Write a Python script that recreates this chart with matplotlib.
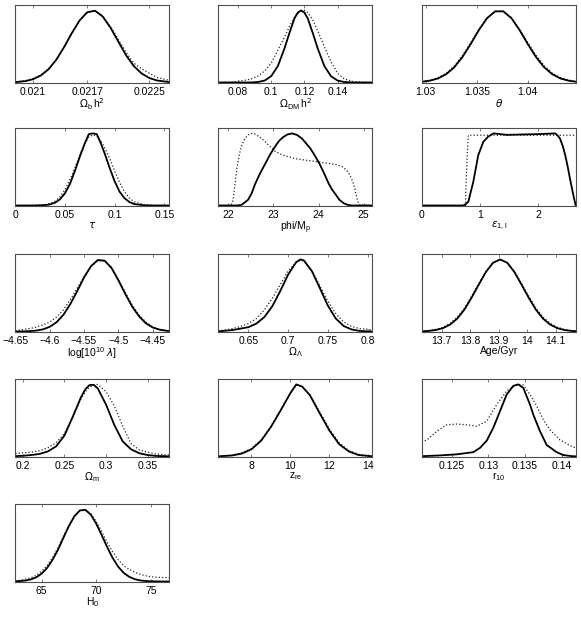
import numpy as np
import matplotlib
matplotlib.use("Agg")
import matplotlib.pyplot as plt

plt.rcParams['font.family'] = ['Liberation Sans', 'DejaVu Sans']
plt.rcParams['mathtext.fontset'] = 'dejavusans'

# Omega_b h^2
obh2_x = [0.02078, 0.0209, 0.0210, 0.0211, 0.0212, 0.0213, 0.0214, 0.0215, 0.0216, 0.0217,
          0.0218, 0.0219, 0.0220, 0.0221, 0.0222, 0.0223, 0.0224, 0.0225, 0.0226, 0.02276]
obh2_solid = [0.006, 0.019, 0.046, 0.097, 0.184, 0.316, 0.49, 0.685, 0.86, 0.975,
              0.995, 0.915, 0.76, 0.57, 0.38, 0.23, 0.127, 0.063, 0.028, 0.006]
obh2_dot = [0.01, 0.025, 0.055, 0.105, 0.19, 0.32, 0.49, 0.68, 0.855, 0.97,
            0.995, 0.92, 0.775, 0.6, 0.42, 0.27, 0.19, 0.13, 0.07, 0.03]

# Omega_DM h^2
odm_x = [0.068, 0.076, 0.084, 0.088, 0.092, 0.096, 0.100, 0.104, 0.108, 0.111, 0.114, 0.116,
         0.118, 0.120, 0.122, 0.125, 0.128, 0.132, 0.136, 0.140, 0.144, 0.150, 0.161]
odm_solid = [0, 0, 0, 0.001, 0.007, 0.027, 0.089, 0.23, 0.475, 0.69, 0.89, 0.97,
             1.0, 0.97, 0.89, 0.69, 0.475, 0.23, 0.089, 0.027, 0.007, 0, 0]
odm_dot = [0, 0.005, 0.03, 0.05, 0.09, 0.16, 0.27, 0.45, 0.63, 0.78, 0.9, 0.96,
           0.99, 1.0, 0.97, 0.87, 0.72, 0.5, 0.29, 0.13, 0.05, 0.01, 0]

# theta
th_x = [1.0296, 1.0304, 1.0312, 1.0320, 1.0328, 1.0336, 1.0344, 1.0352, 1.0360, 1.0368,
        1.0376, 1.0384, 1.0392, 1.0400, 1.0408, 1.0416, 1.0424, 1.0432, 1.0440, 1.0447]
th_solid = [0.010, 0.025, 0.056, 0.115, 0.212, 0.355, 0.533, 0.726, 0.891, 0.987,
            0.987, 0.891, 0.726, 0.533, 0.355, 0.212, 0.115, 0.056, 0.025, 0.011]
th_dot = [0.014, 0.032, 0.066, 0.13, 0.23, 0.375, 0.55, 0.735, 0.895, 0.985,
          0.988, 0.9, 0.74, 0.555, 0.38, 0.235, 0.13, 0.07, 0.035, 0.015]

# tau
tau_x = [0, 0.01, 0.02, 0.03, 0.035, 0.04, 0.045, 0.05, 0.055, 0.06, 0.065, 0.07, 0.074,
         0.078, 0.082, 0.086, 0.09, 0.095, 0.10, 0.105, 0.11, 0.115, 0.12, 0.13, 0.14, 0.155]
tau_solid = [0, 0, 0, 0.006, 0.015, 0.039, 0.086, 0.17, 0.30, 0.48, 0.68, 0.865, 0.99,
             1.0, 0.99, 0.865, 0.72, 0.52, 0.335, 0.19, 0.10, 0.046, 0.019, 0.003, 0, 0]
tau_dot = [0, 0, 0.002, 0.01, 0.03, 0.06, 0.12, 0.22, 0.36, 0.52, 0.70, 0.86, 0.95,
           0.98, 0.96, 0.9, 0.8, 0.65, 0.48, 0.32, 0.19, 0.1, 0.05, 0.01, 0.002, 0]

# phi / M_p
phi_x = [21.78, 22.0, 22.2, 22.3, 22.44, 22.52, 22.59, 22.7, 22.82, 22.93, 23.04, 23.13,
         23.22, 23.31, 23.41, 23.52, 23.63, 23.72, 23.82, 23.92, 24.02, 24.12, 24.22, 24.3,
         24.37, 24.46, 24.56, 24.65, 24.74, 25.19]
phi_solid = [0, 0, 0, 0.01, 0.08, 0.17, 0.29, 0.44, 0.58, 0.71, 0.82, 0.9,
             0.95, 0.985, 1.0, 0.98, 0.93, 0.865, 0.79, 0.69, 0.58, 0.45, 0.31, 0.22,
             0.16, 0.08, 0.03, 0.008, 0, 0]
phi_dot_x = [21.78, 22.05, 22.1, 22.12, 22.15, 22.2, 22.25, 22.3, 22.37, 22.44, 22.52, 22.6,
             22.74, 22.89, 23.04, 23.2, 23.48, 23.7, 23.93, 24.22, 24.37, 24.52, 24.6, 24.67,
             24.73, 24.78, 24.82, 24.86, 24.9, 25.19]
phi_dot = [0, 0, 0.05, 0.15, 0.3, 0.55, 0.72, 0.84, 0.93, 0.98, 1.0, 0.99,
           0.93, 0.84, 0.75, 0.7, 0.65, 0.63, 0.61, 0.585, 0.57, 0.54, 0.5, 0.45,
           0.37, 0.29, 0.18, 0.08, 0.01, 0]

# epsilon_{1,l}
eps_x = [0, 0.71, 0.76, 0.8, 0.885, 0.97, 1.057, 1.14, 1.23, 1.35, 1.46, 1.7, 2.0, 2.29,
         2.33, 2.37, 2.42, 2.46, 2.5, 2.54, 2.59, 2.64]
eps_solid = [0, 0, 0.02, 0.055, 0.33, 0.70, 0.885, 0.955, 1.0, 0.99, 0.98, 0.985, 0.99, 1.0,
             0.97, 0.93, 0.82, 0.70, 0.55, 0.38, 0.18, 0.0]
eps_dot_x = [0, 0.75, 0.76, 0.78, 0.8, 1.5, 2.64]
eps_dot = [0, 0, 0.3, 0.7, 0.975, 0.975, 0.975]

# log[10^10 lambda]
lam_x = [-4.65, -4.64, -4.63, -4.62, -4.61, -4.60, -4.59, -4.58, -4.57, -4.56, -4.55, -4.54,
         -4.53, -4.52, -4.51, -4.50, -4.49, -4.48, -4.47, -4.46, -4.45, -4.44, -4.43, -4.426]
lam_solid = [0.0005, 0.0015, 0.0045, 0.012, 0.029, 0.065, 0.128, 0.232, 0.38, 0.56, 0.75, 0.905,
             0.992, 0.982, 0.88, 0.71, 0.52, 0.345, 0.21, 0.113, 0.055, 0.025, 0.01, 0.007]
lam_dot = [0.01, 0.025, 0.04, 0.06, 0.09, 0.13, 0.2, 0.3, 0.44, 0.6, 0.76, 0.9,
           0.98, 0.98, 0.89, 0.72, 0.54, 0.37, 0.23, 0.13, 0.065, 0.03, 0.012, 0.008]

# Omega_Lambda
olam_x = [0.612, 0.62, 0.63, 0.64, 0.65, 0.66, 0.67, 0.68, 0.69, 0.70, 0.71, 0.7156,
          0.72, 0.73, 0.74, 0.75, 0.76, 0.77, 0.78, 0.79, 0.80, 0.806]
olam_solid = [0, 0.01, 0.02, 0.04, 0.06, 0.11, 0.2, 0.35, 0.56, 0.79, 0.96, 1.0,
              0.984, 0.835, 0.6, 0.36, 0.18, 0.076, 0.028, 0.008, 0.002, 0]
olam_dot = [0.01, 0.02, 0.04, 0.07, 0.11, 0.18, 0.3, 0.46, 0.65, 0.84, 0.96, 0.99,
            0.975, 0.84, 0.63, 0.42, 0.25, 0.13, 0.07, 0.04, 0.03, 0.02]

# Age / Gyr
age_x = [13.63, 13.655, 13.68, 13.705, 13.73, 13.755, 13.78, 13.805, 13.83, 13.855, 13.88,
         13.905, 13.93, 13.955, 13.98, 14.005, 14.03, 14.055, 14.08, 14.105, 14.13, 14.155, 14.17]
age_solid = [0.003, 0.008, 0.021, 0.047, 0.097, 0.18, 0.305, 0.47, 0.65, 0.825, 0.953,
             1.0, 0.953, 0.825, 0.65, 0.47, 0.305, 0.18, 0.097, 0.047, 0.021, 0.008, 0.005]
age_dot = [0.006, 0.014, 0.03, 0.06, 0.115, 0.2, 0.325, 0.49, 0.665, 0.83, 0.955,
           0.995, 0.955, 0.835, 0.665, 0.49, 0.33, 0.2, 0.115, 0.06, 0.03, 0.013, 0.008]

# Omega_m
om_x = [0.191, 0.2, 0.21, 0.22, 0.23, 0.24, 0.25, 0.26, 0.27, 0.275, 0.28, 0.285, 0.29,
        0.30, 0.31, 0.32, 0.33, 0.34, 0.35, 0.36, 0.376]
om_solid = [0.005, 0.01, 0.02, 0.035, 0.07, 0.14, 0.29, 0.55, 0.825, 0.93, 0.99, 0.995, 0.946,
            0.72, 0.436, 0.21, 0.1, 0.045, 0.02, 0.008, 0.002]
om_dot = [0.04, 0.05, 0.06, 0.08, 0.12, 0.19, 0.32, 0.55, 0.8, 0.9, 0.96, 0.99, 1.0,
          0.9, 0.7, 0.42, 0.18, 0.09, 0.06, 0.035, 0.02]

# z_re
zre_x = [6.3, 7.0, 7.5, 8.0, 8.5, 9.0, 9.5, 10.0, 10.3, 10.6, 11.0, 11.5, 12.0, 12.5,
         13.0, 13.5, 14.2]
zre_solid = [0.002, 0.014, 0.04, 0.1, 0.22, 0.41, 0.64, 0.88, 1.0, 0.97, 0.85, 0.6,
             0.36, 0.17, 0.07, 0.02, 0.003]
zre_dot = [0.004, 0.02, 0.05, 0.11, 0.23, 0.42, 0.65, 0.88, 0.99, 0.97, 0.86, 0.62,
           0.38, 0.19, 0.08, 0.03, 0.006]

# r_10
r10_x = [0.1209, 0.12113, 0.1234, 0.12568, 0.12794, 0.12886, 0.12977, 0.13067, 0.13158,
         0.13249, 0.1334, 0.13408, 0.13476, 0.13567, 0.13612, 0.13703, 0.13794, 0.1393,
         0.14021, 0.14135, 0.1419]
r10_solid = [0.003, 0.005, 0.015, 0.03, 0.06, 0.12, 0.22, 0.4, 0.63,
             0.86, 0.98, 1.0, 0.95, 0.72, 0.58, 0.35, 0.16, 0.06,
             0.02, 0.005, 0.002]
r10_dot_x = [0.1209, 0.1216, 0.12296, 0.12432, 0.12568, 0.12704, 0.1284, 0.12977, 0.13113,
             0.13249, 0.13386, 0.13476, 0.13567, 0.13658, 0.13748, 0.13839, 0.13975, 0.14135, 0.1419]
r10_dot = [0.2, 0.23, 0.35, 0.44, 0.45, 0.44, 0.42, 0.49, 0.72,
           0.91, 1.0, 0.99, 0.86, 0.7, 0.51, 0.37, 0.23, 0.14, 0.12]

# H_0
h0_x = [62.6, 63, 63.5, 64, 64.5, 65, 65.5, 66, 66.5, 67, 67.5, 68, 68.5, 69, 69.5, 70,
        70.5, 71, 71.5, 72, 72.5, 73, 73.5, 74, 74.5, 75, 75.5, 76, 76.67]
h0_solid = [0.003, 0.006, 0.013, 0.028, 0.057, 0.108, 0.187, 0.30, 0.44, 0.607, 0.77, 0.905,
            0.986, 0.994, 0.927, 0.80, 0.64, 0.475, 0.325, 0.205, 0.12, 0.066, 0.033, 0.015,
            0.007, 0.003, 0.001, 0, 0]
h0_dot = [0.01, 0.015, 0.03, 0.05, 0.085, 0.14, 0.22, 0.33, 0.47, 0.63, 0.78, 0.91,
          0.98, 0.99, 0.94, 0.83, 0.69, 0.54, 0.41, 0.3, 0.22, 0.17, 0.13, 0.1,
          0.08, 0.065, 0.06, 0.055, 0.055]

panels = [
    (obh2_x, obh2_solid, obh2_x, obh2_dot, (0.02077, 0.02276), [0.021, 0.0217, 0.0225],
     ['0.021', '0.0217', '0.0225'], r'$\Omega_{\mathregular{b}}\,\mathregular{h}^2$'),
    (odm_x, odm_solid, odm_x, odm_dot, (0.068, 0.161), [0.08, 0.1, 0.12, 0.14],
     ['0.08', '0.1', '0.12', '0.14'], r'$\Omega_{\mathregular{DM}}\,\mathregular{h}^2$'),
    (th_x, th_solid, th_x, th_dot, (1.0296, 1.0447), [1.03, 1.035, 1.04],
     ['1.03', '1.035', '1.04'], r'$\theta$'),
    (tau_x, tau_solid, tau_x, tau_dot, (0, 0.155), [0, 0.05, 0.1, 0.15],
     ['0', '0.05', '0.1', '0.15'], r'$\tau$'),
    (phi_x, phi_solid, phi_dot_x, phi_dot, (21.78, 25.19), [22, 23, 24, 25],
     ['22', '23', '24', '25'], r'phi/M$_{\mathregular{p}}$'),
    (eps_x, eps_solid, eps_dot_x, eps_dot, (0, 2.64), [0, 1, 2],
     ['0', '1', '2'], r'$\epsilon_{\mathregular{1,l}}$'),
    (lam_x, lam_solid, lam_x, lam_dot, (-4.65, -4.426), [-4.65, -4.6, -4.55, -4.5, -4.45],
     ['\u22124.65', '\u22124.6', '\u22124.55', '\u22124.5', '\u22124.45'],
     r'log[10$^{\mathregular{10}}$ $\lambda$]'),
    (olam_x, olam_solid, olam_x, olam_dot, (0.612, 0.806), [0.65, 0.7, 0.75, 0.8],
     ['0.65', '0.7', '0.75', '0.8'], r'$\Omega_\Lambda$'),
    (age_x, age_solid, age_x, age_dot, (13.63, 14.17), [13.7, 13.8, 13.9, 14.0, 14.1],
     ['13.7', '13.8', '13.9', '14', '14.1'], 'Age/Gyr'),
    (om_x, om_solid, om_x, om_dot, (0.191, 0.376), [0.2, 0.25, 0.3, 0.35],
     ['0.2', '0.25', '0.3', '0.35'], r'$\Omega_{\mathregular{m}}$'),
    (zre_x, zre_solid, zre_x, zre_dot, (6.3, 14.2), [8, 10, 12, 14],
     ['8', '10', '12', '14'], r'z$_{\mathregular{re}}$'),
    (r10_x, r10_solid, r10_dot_x, r10_dot, (0.1209, 0.1419), [0.125, 0.13, 0.135, 0.14],
     ['0.125', '0.13', '0.135', '0.14'], r'r$_{\mathregular{10}}$'),
    (h0_x, h0_solid, h0_x, h0_dot, (62.6, 76.67), [65, 70, 75],
     ['65', '70', '75'], r'H$_{\mathregular{0}}$'),
]

W, H = 581, 619
col_left = [15.3, 218.3, 421.7]
row_top = [5, 128, 254, 379, 504]
ax_w, ax_h = 154, 77.5

fig = plt.figure(figsize=(W / 100, H / 100), dpi=100)

for i, (xs, ys, xd, yd, xlim, ticks, tlabels, label) in enumerate(panels):
    r, c = divmod(i, 3)
    ax = fig.add_axes([col_left[c] / W, 1 - (row_top[r] + ax_h) / H, ax_w / W, ax_h / H])
    ax.plot(xd, yd, ls=':', color='0.15', lw=0.9)
    ax.plot(xs, ys, color='k', lw=1.3)
    ax.set_xlim(*xlim)
    ax.set_ylim(0, 1.075)
    ax.set_yticks([])
    ax.set_xticks(ticks)
    ax.set_xticklabels(tlabels)
    ax.tick_params(axis='x', direction='in', top=True, length=2.5, width=0.6,
                   color='0.4', labelsize=7.5, pad=3)
    for s in ax.spines.values():
        s.set_color('0.3')
        s.set_linewidth(0.8)
    ax.set_xlabel(label, fontsize=7.5, labelpad=0)

fig.savefig('out.png', dpi=100)
